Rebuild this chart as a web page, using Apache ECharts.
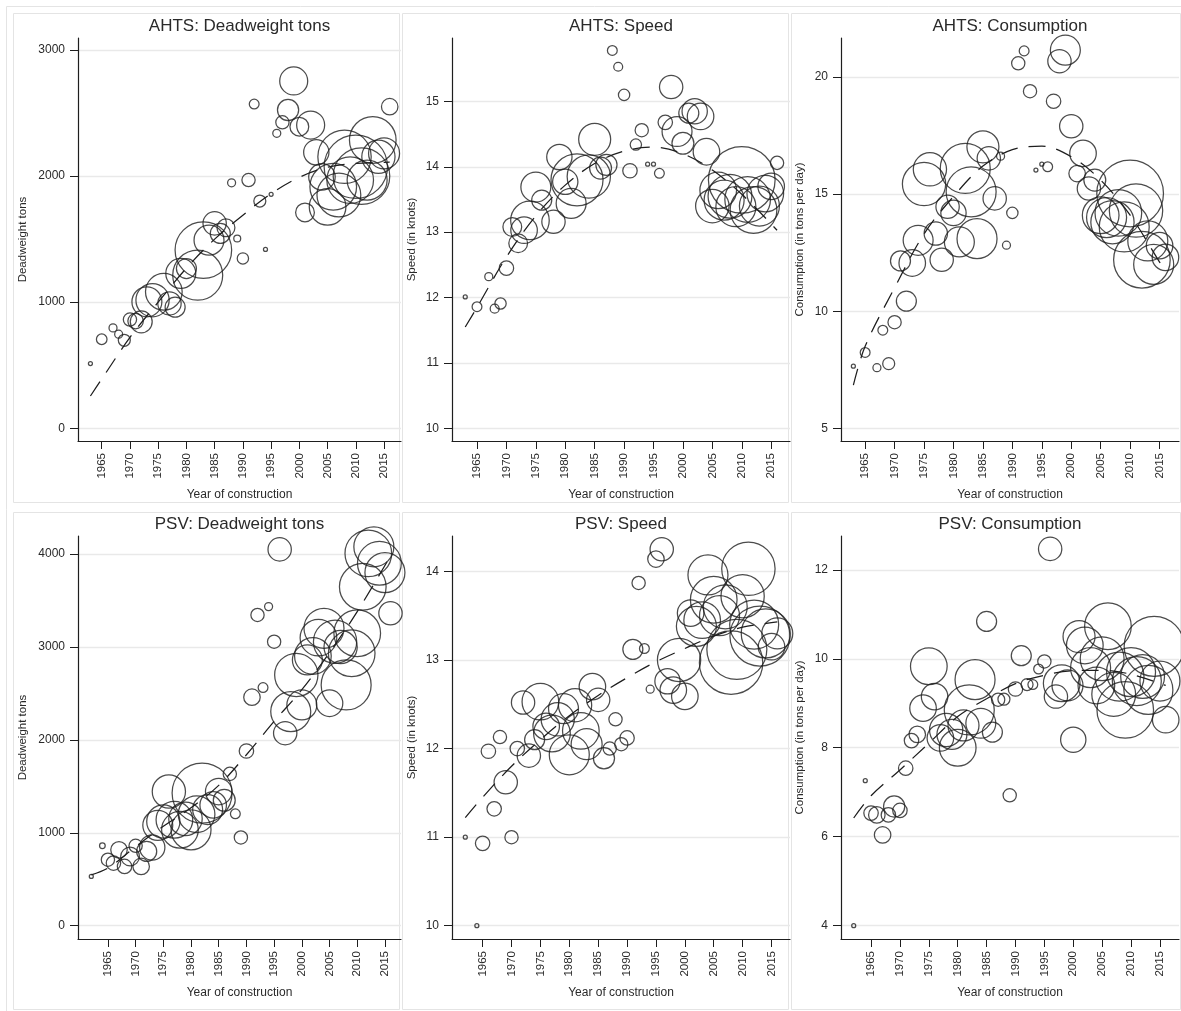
<!DOCTYPE html>
<html><head><meta charset="utf-8">
<script src="https://cdn.jsdelivr.net/npm/echarts@6/dist/echarts.min.js"></script>
<style>html,body{margin:0;padding:0;background:#fff}#c{width:1181px;height:1011px}</style>
</head><body><div id="c"></div>
<script>
// ---------- DATA: [year of construction, mean value, number of vessels] ----------
const yearTicks = [1965,1970,1975,1980,1985,1990,1995,2000,2005,2010,2015];

const ahtsDwt = [[1963,513,1],[1965,706,7],[1967,796,4],[1968,746,4],[1969,698,9],[1970,862,11],[1971,850,15],[1972,844,30],
 [1973,1003,56],[1974,1016,69],[1976,1082,84],[1977,990,34],[1978,960,25],[1979,1228,56],[1980,1267,25],[1982,1214,156],
 [1983,1413,200],[1984,1492,56],[1985,1625,34],[1986,1545,25],[1987,1590,20],[1988,1947,4],[1989,1505,3],[1990,1347,8],
 [1991,1968,11],[1992,2571,6],[1993,1802,9],[1994,1418,1],[1995,1855,1],[1996,2339,4],[1997,2426,11],[1998,2524,28],
 [1999,2754,49],[2000,2392,22],[2001,1712,22],[2002,2405,49],[2003,2188,40],[2004,1994,44],[2005,1756,84],[2006,1915,136],
 [2007,1850,120],[2008,2153,178],[2009,1968,136],[2010,2074,251],[2011,2000,200],[2012,1968,100],[2013,2286,136],
 [2014,2153,69],[2015,2180,60],[2016,2550,17]];
const ahtsSpeed = [[1963,12.01,1],[1965,11.86,6],[1967,12.32,4],[1968,11.83,5],[1969,11.91,8],[1970,12.45,13],[1971,13.08,22],
 [1972,12.83,22],[1973,13.03,44],[1974,13.18,93],[1975,13.69,56],[1976,13.49,25],[1978,13.16,34],[1979,14.15,40],[1980,13.77,40],
 [1981,13.44,56],[1982,13.80,169],[1984,13.85,117],[1985,14.42,64],[1986,13.98,30],[1987,14.03,28],[1988,15.78,6],[1989,15.53,5],
 [1990,15.10,8],[1991,13.94,13],[1992,14.34,8],[1993,14.56,11],[1994,14.04,1],[1995,14.04,1],[1996,13.90,6],[1997,14.68,13],
 [1998,15.22,34],[1999,14.54,56],[2000,14.36,30],[2001,14.82,25],[2002,14.85,40],[2003,14.77,44],[2004,14.23,44],[2005,13.40,70],
 [2006,13.64,84],[2007,13.49,100],[2008,13.55,120],[2009,13.39,100],[2010,13.80,278],[2011,13.50,130],[2012,13.34,136],
 [2013,13.40,100],[2014,13.59,84],[2015,13.70,44],[2016,14.06,11]];
const ahtsCons = [[1963,7.65,1],[1965,8.24,6],[1967,7.59,4],[1968,9.19,6],[1969,7.76,9],[1970,9.53,11],[1971,12.15,25],[1972,10.43,25],
 [1973,12.06,44],[1974,13.03,56],[1975,15.43,117],[1976,16.06,69],[1977,13.32,34],[1978,12.20,34],[1979,14.46,34],[1980,14.20,40],
 [1981,12.96,56],[1982,16.10,156],[1983,15.10,156],[1984,13.10,100],[1985,17.02,64],[1986,16.53,34],[1987,14.82,34],[1988,16.62,4],
 [1989,12.82,4],[1990,14.20,8],[1991,20.59,11],[1992,21.12,6],[1993,19.40,11],[1994,16.03,1],[1995,16.28,1],[1996,16.17,6],
 [1997,18.97,13],[1998,20.68,34],[1999,21.15,56],[2000,17.90,34],[2001,15.88,17],[2002,16.74,44],[2003,15.24,34],[2004,15.60,30],
 [2005,14.10,84],[2006,14.00,100],[2007,13.80,117],[2008,14.20,136],[2009,13.60,156],[2010,15.03,278],[2011,14.30,178],
 [2012,12.20,200],[2013,13.00,100],[2014,12.00,100],[2015,12.80,44],[2016,12.30,44]];

const psvDwt = [[1962,530,1],[1964,860,2],[1965,710,11],[1966,674,13],[1967,817,17],[1968,638,13],[1969,745,22],[1970,860,11],
 [1971,638,17],[1972,800,25],[1973,842,40],[1974,1080,56],[1975,1121,69],[1976,1444,69],[1977,1140,84],[1978,1032,84],
 [1979,1150,70],[1980,1032,100],[1981,1200,84],[1982,1427,225],[1983,1250,56],[1984,1300,44],[1985,1444,44],[1986,1350,30],
 [1987,1634,11],[1988,1204,6],[1989,950,11],[1990,1880,13],[1991,2459,17],[1992,3344,11],[1993,2563,6],[1994,3434,4],
 [1995,3057,11],[1996,4050,34],[1997,2072,34],[1998,2304,100],[1999,2699,117],[2000,2376,56],[2001,2860,56],[2002,2903,84],
 [2003,3100,84],[2004,3201,100],[2005,2394,44],[2006,3057,117],[2007,3000,69],[2008,2591,156],[2009,2932,136],[2010,3147,136],
 [2011,3648,136],[2012,4007,136],[2013,4078,100],[2014,3900,120],[2015,3800,100],[2016,3362,34]];
const psvSpeed = [[1962,11.0,1],[1964,10.0,1],[1965,10.93,13],[1966,11.97,13],[1967,11.32,13],[1968,12.13,11],[1969,11.62,34],
 [1970,11.0,11],[1971,12.0,13],[1972,12.52,34],[1973,11.92,34],[1974,12.10,25],[1975,12.53,84],[1976,12.25,44],[1977,12.17,84],
 [1978,12.33,69],[1979,12.45,56],[1980,11.93,100],[1981,12.49,69],[1982,12.20,84],[1983,12.05,60],[1984,12.70,44],[1985,12.55,34],
 [1986,11.89,28],[1987,12.00,11],[1988,12.33,11],[1989,12.05,11],[1990,12.12,13],[1991,13.12,25],[1992,13.87,11],[1993,13.13,6],
 [1994,12.67,4],[1995,14.14,17],[1996,14.25,34],[1997,12.76,40],[1998,12.66,44],[1999,13.00,117],[2000,12.59,44],[2001,13.53,44],
 [2002,13.38,100],[2003,13.45,84],[2004,13.96,100],[2005,13.68,136],[2006,13.50,100],[2007,13.60,120],[2008,12.97,251],
 [2009,13.12,225],[2010,13.72,117],[2011,14.03,178],[2012,13.40,150],[2013,13.27,225],[2014,13.30,150],[2015,13.15,44],[2016,13.30,60]];
const psvCons = [[1962,4.0,1],[1964,7.26,1],[1965,6.53,13],[1966,6.49,17],[1967,6.04,17],[1968,6.49,13],[1969,6.68,28],[1970,6.59,13],
 [1971,7.54,13],[1972,8.16,13],[1973,8.30,17],[1974,8.89,44],[1975,9.83,84],[1976,9.15,44],[1977,8.22,44],[1978,8.40,69],
 [1979,8.30,56],[1980,8.00,84],[1981,8.50,60],[1982,8.85,156],[1983,9.53,100],[1984,8.55,56],[1985,10.84,25],[1986,8.35,25],
 [1987,9.08,11],[1988,9.09,9],[1989,6.93,11],[1990,9.32,13],[1991,10.07,25],[1992,9.42,9],[1993,9.42,6],[1994,9.77,6],
 [1995,9.94,11],[1996,12.47,34],[1997,9.15,34],[1998,9.45,84],[1999,9.40,60],[2000,8.18,40],[2001,10.50,64],[2002,10.30,84],
 [2003,9.80,100],[2004,9.40,84],[2005,10.00,120],[2006,10.73,136],[2007,9.20,120],[2008,9.60,150],[2009,8.85,200],
 [2010,9.70,150],[2011,9.50,150],[2012,9.60,120],[2013,9.30,150],[2014,10.28,225],[2015,9.50,100],[2016,8.63,44]];

// fitted trend lines (dashed): [year, fitted value]
const ahtsDwtFit = [[1963,256],[1965,390],[1970,720],[1975,1000],[1980,1270],[1985,1500],[1990,1690],[1995,1860],[2000,1990],[2005,2070],[2010,2100],[2016,2110]];
const ahtsSpeedFit = [[1963,11.55],[1965,11.85],[1970,12.62],[1975,13.25],[1980,13.72],[1985,14.05],[1990,14.24],[1995,14.30],[2000,14.20],[2005,13.95],[2010,13.58],[2016,13.03]];
const ahtsConsFit = [[1963,6.84],[1965,8.5],[1970,11.0],[1975,13.3],[1980,14.9],[1985,16.2],[1990,16.9],[1995,17.05],[2000,16.6],[2005,15.6],[2010,14.1],[2015,12.1],[2016,11.7]];
const psvDwtFit = [[1962,548],[1965,620],[1970,850],[1975,1070],[1980,1270],[1985,1510],[1990,1840],[1995,2200],[2000,2540],[2005,2940],[2010,3380],[2016,3980]];
const psvSpeedFit = [[1962,11.22],[1965,11.45],[1970,11.8],[1975,12.1],[1980,12.37],[1985,12.6],[1990,12.8],[1995,12.98],[2000,13.13],[2005,13.27],[2010,13.37],[2016,13.43]];
const psvConsFit = [[1962,6.42],[1965,6.92],[1970,7.5],[1975,8.1],[1980,8.7],[1985,9.1],[1990,9.44],[1995,9.63],[2000,9.73],[2005,9.74],[2010,9.65],[2016,9.4]];

const titles = ['AHTS: Deadweight tons','AHTS: Speed','AHTS: Consumption','PSV: Deadweight tons','PSV: Speed','PSV: Consumption'];
const yNames = ['Deadweight tons','Speed (in knots)','Consumption (in tons per day)','Deadweight tons','Speed (in knots)','Consumption (in tons per day)'];
const xName = 'Year of construction';
const yTickSets = [[0,1000,2000,3000],[10,11,12,13,14,15],[5,10,15,20],[0,1000,2000,3000,4000],[10,11,12,13,14],[4,6,8,10,12]];

// ---------- LAYOUT ----------
const FONT = '"Liberation Sans", Arial, sans-serif';
const INK = '#1e1e1e';
const TXT = '#2a2a2a';
const scatterSets = [ahtsDwt, ahtsSpeed, ahtsCons, psvDwt, psvSpeed, psvCons];
const fitSets = [ahtsDwtFit, ahtsSpeedFit, ahtsConsFit, psvDwtFit, psvSpeedFit, psvConsFit];
const layout = [
  {left:78,  top:38,  width:323, height:403, xr:[1960.8,2018.0], yr:[-101,3095], ng:49},
  {left:452, top:38,  width:338, height:403, xr:[1960.75,2018.2], yr:[9.806,15.97], ng:34},
  {left:841, top:38,  width:338, height:403, xr:[1960.9,2018.3], yr:[4.457,21.67], ng:35},
  {left:78,  top:536, width:323, height:403, xr:[1959.6,2017.9], yr:[-143,4194], ng:49},
  {left:452, top:536, width:338, height:403, xr:[1959.7,2018.2], yr:[9.85,14.40], ng:34},
  {left:841, top:536, width:338, height:403, xr:[1959.8,2018.3], yr:[3.70,12.76], ng:35}
];

const grid=[], xAxis=[], yAxis=[], series=[], title=[];
layout.forEach((L,i)=>{
  grid.push({left:L.left, top:L.top, width:L.width, height:L.height, containLabel:false, outerBoundsMode:'none'});
  xAxis.push({type:'value', gridIndex:i, min:L.xr[0], max:L.xr[1],
    axisLine:{show:true, onZero:false, lineStyle:{color:INK, width:1.2}},
    axisTick:{show:true, length:8, customValues:yearTicks, lineStyle:{color:INK, width:1}},
    axisLabel:{show:true, rotate:90, margin:12, customValues:yearTicks, fontSize:11.5, color:TXT, fontFamily:FONT, formatter:v=>String(v)},
    splitLine:{show:false},
    name:xName, nameLocation:'middle', nameGap:48, nameTextStyle:{fontSize:12, color:TXT, fontFamily:FONT}});
  yAxis.push({type:'value', gridIndex:i, min:L.yr[0], max:L.yr[1],
    axisLine:{show:true, onZero:false, lineStyle:{color:INK, width:1.2}},
    axisTick:{show:true, length:8, customValues:yTickSets[i], lineStyle:{color:INK, width:1}},
    axisLabel:{show:true, margin:13, customValues:yTickSets[i], fontSize:12, color:TXT, fontFamily:FONT, formatter:v=>String(v)},
    splitLine:{show:true, lineStyle:{color:'#e9e9e9', width:1.3}},
    name:yNames[i], nameLocation:'middle', nameGap:L.ng, nameTextStyle:{fontSize:11.5, color:TXT, fontFamily:FONT}});
  series.push({type:'scatter', xAxisIndex:i, yAxisIndex:i, data:scatterSets[i],
    symbol:'circle', symbolSize:d=>4*Math.sqrt(d[2]),
    itemStyle:{color:'rgba(0,0,0,0)', borderColor:INK, borderWidth:1.25},
    emphasis:{disabled:true}, silent:true, clip:false});
  series.push({type:'line', xAxisIndex:i, yAxisIndex:i, data:fitSets[i], showSymbol:false, smooth:0.35,
    lineStyle:{color:INK, width:1.25, type:[17,11]}, emphasis:{disabled:true}, silent:true});
  title.push({text:titles[i], left:L.left+L.width/2, top:L.top-20, textAlign:'center', padding:0,
    textStyle:{fontSize:17, fontWeight:'normal', color:TXT, fontFamily:FONT}});
});

const boxColor = '#e4e4e4';
const boxes = [[13,13,386,489],[402,13,386,489],[791,13,389,489],[13,512,386,497],[402,512,386,497],[791,512,389,497]];
const graphic = [{type:'rect', silent:true, z:-20, shape:{x:6.5,y:6.5,width:1180,height:1010}, style:{fill:'none', stroke:boxColor, lineWidth:1}}]
 .concat(boxes.map(b=>({type:'rect', silent:true, z:-20, shape:{x:b[0]+0.5,y:b[1]+0.5,width:b[2],height:b[3]}, style:{fill:'none', stroke:boxColor, lineWidth:1}})));

const chart = echarts.init(document.getElementById('c'), null, {renderer:'canvas'});
chart.setOption({animation:false, backgroundColor:'#fff', title, grid, xAxis, yAxis, series, graphic});
</script></body></html>
